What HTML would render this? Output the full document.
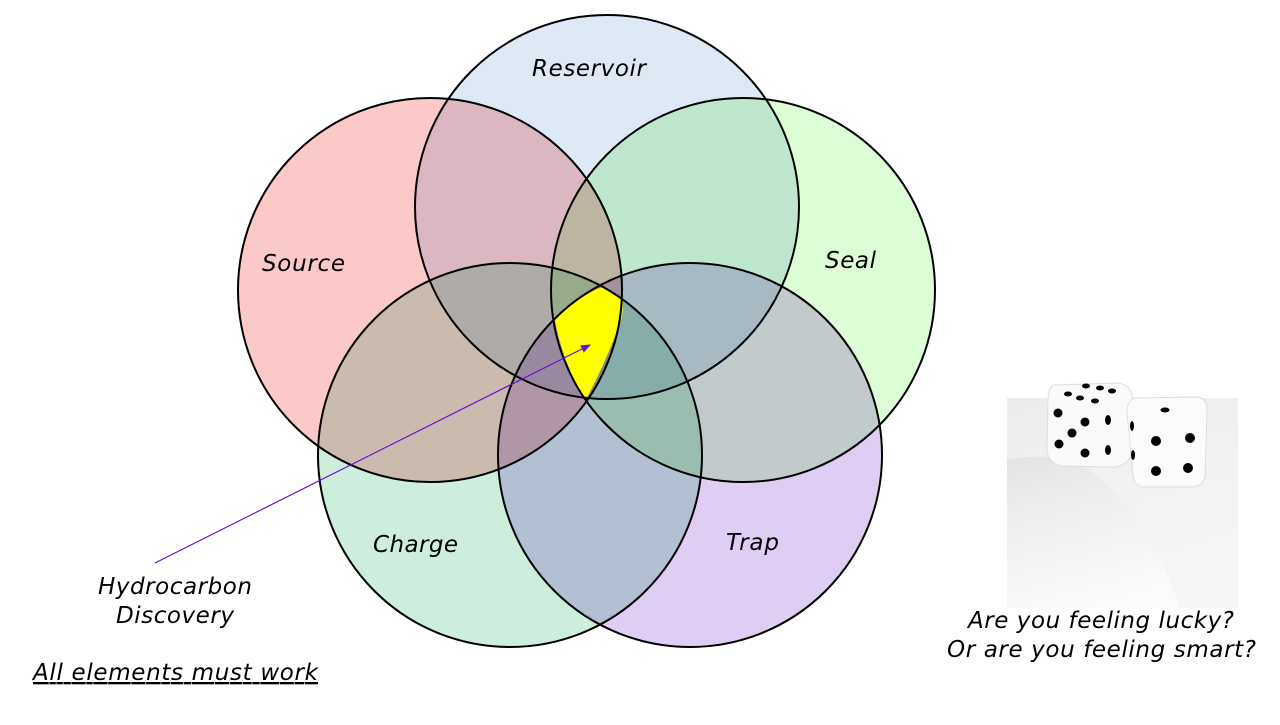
<!DOCTYPE html>
<html><head><meta charset="utf-8"><style>
body{margin:0;background:#fff;width:1280px;height:720px;overflow:hidden}
text{font-family:"DejaVu Sans",sans-serif;font-style:italic;font-size:23px;fill:#000}
</style></head><body>
<svg width="1280" height="720" viewBox="0 0 1280 720" xmlns="http://www.w3.org/2000/svg">
<defs>
<linearGradient id="g" x1="0" y1="0" x2="0.3" y2="1">
<stop offset="0" stop-color="#d8d9d7"/><stop offset="0.5" stop-color="#eceded"/><stop offset="1" stop-color="#fbfbfb"/></linearGradient>
<marker id="ar" markerWidth="10" markerHeight="8" refX="9" refY="4" orient="auto" markerUnits="userSpaceOnUse"><path d="M0,0 L10,4 L0,8z" fill="#6a0dd6"/></marker>
</defs>
<g style="isolation:isolate">
<g style="mix-blend-mode:multiply"><circle cx="607" cy="207" r="192" fill="#dde9f5"/></g>
<g style="mix-blend-mode:multiply"><circle cx="430" cy="290" r="192" fill="#fcc9c9"/></g>
<g style="mix-blend-mode:multiply"><circle cx="743" cy="290" r="192" fill="#ddfdd6"/></g>
<g style="mix-blend-mode:multiply"><circle cx="510" cy="455" r="192" fill="#cdeedd"/></g>
<g style="mix-blend-mode:multiply"><circle cx="690" cy="455" r="192" fill="#dfcdf3"/></g>
</g>
<path d="M602,287 L622,299 Q624,312 621,320 Q605,365 585,401 Q562,360 555,320 Q575,298 602,287z" fill="#ffff00"/>
<g fill="none" stroke="#000" stroke-width="2">
<circle cx="607" cy="207" r="192"/><circle cx="430" cy="290" r="192"/><circle cx="743" cy="290" r="192"/><circle cx="510" cy="455" r="192"/><circle cx="690" cy="455" r="192"/>
</g>
<line x1="155" y1="563" x2="590" y2="345" stroke="#6a0dd6" stroke-width="1.2" marker-end="url(#ar)"/>
<text x="532" y="76" textLength="114">Reservoir</text>
<text x="262" y="271" textLength="83">Source</text>
<text x="825" y="268" textLength="51">Seal</text>
<text x="373" y="552" textLength="85">Charge</text>
<text x="726" y="550" textLength="53">Trap</text>
<text x="98" y="594" textLength="154">Hydrocarbon</text>
<text x="116" y="623" textLength="118">Discovery</text>
<text x="33" y="680" textLength="285" text-decoration="underline">All elements must work</text>
<text x="968" y="628" textLength="266">Are you feeling lucky?</text>
<text x="947" y="657" textLength="309">Or are you feeling smart?</text>
<rect x="1007" y="398" width="231" height="210" fill="url(#g)"/>
<path d="M1007,460 Q1050,450 1090,470 Q1150,520 1180,608 L1238,608 L1238,398 L1007,398z" fill="#f3f4f3" opacity="0.7"/>
<g>
<path d="M1055,385 L1118,383 Q1132,385 1133,400 L1132,455 Q1125,468 1110,467 L1060,466 Q1048,462 1047,450 L1048,398 Q1049,386 1055,385z" fill="#fafafa" stroke="#ddd"/>
<g fill="#000">
<ellipse cx="1086" cy="386" rx="4" ry="2.5"/><ellipse cx="1100" cy="388" rx="4" ry="2.5"/><ellipse cx="1112" cy="391" rx="4" ry="2.5"/>
<ellipse cx="1068" cy="394" rx="4" ry="2.5"/><ellipse cx="1080" cy="398" rx="4" ry="2.5"/><ellipse cx="1095" cy="401" rx="4" ry="2.5"/>
<circle cx="1058" cy="413" r="4.5"/><circle cx="1085" cy="422" r="4.5"/><circle cx="1072" cy="433" r="4.5"/><circle cx="1059" cy="444" r="4.5"/><circle cx="1085" cy="453" r="4.5"/>
<ellipse cx="1108" cy="420" rx="3" ry="5"/><ellipse cx="1108" cy="450" rx="3" ry="5"/>
</g>
<path d="M1135,398 L1198,397 Q1207,399 1207,410 L1205,476 Q1203,486 1193,487 L1143,487 Q1134,485 1133,476 L1127,412 Q1127,400 1135,398z" fill="#fbfbfb" stroke="#ddd"/>
<g fill="#000">
<ellipse cx="1165" cy="410" rx="4.5" ry="2.5"/>
<circle cx="1156" cy="441" r="5"/><circle cx="1190" cy="438" r="5"/><circle cx="1156" cy="471" r="5"/><circle cx="1188" cy="468" r="5"/>
<ellipse cx="1132" cy="426" rx="2" ry="5"/><ellipse cx="1133" cy="455" rx="2" ry="5"/>
</g>
</g>
</svg>
</body></html>
